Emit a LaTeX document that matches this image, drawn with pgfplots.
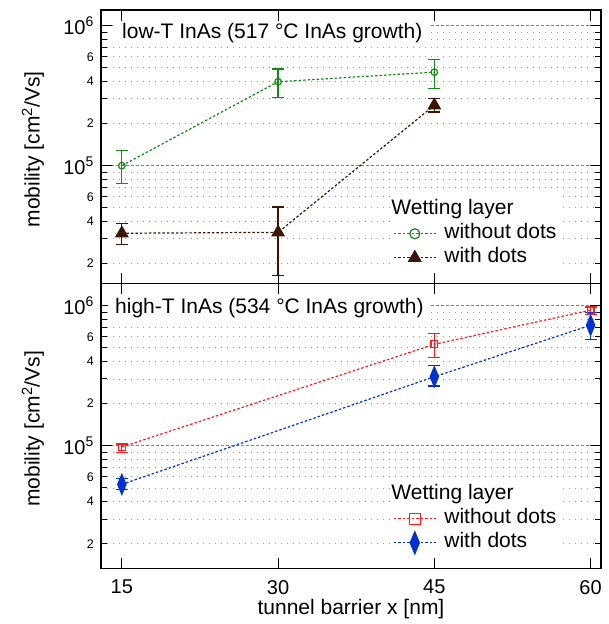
\documentclass[border=0pt]{standalone}
\usepackage{fontspec}
\setmainfont{Liberation Sans}
\usepackage{pgfplots}
\usepackage{pgfplotstable}
\pgfplotsset{compat=1.18}

\definecolor{wgreen}{RGB}{25,135,25}
\definecolor{wbrown}{RGB}{60,22,5}
\definecolor{wred}{RGB}{250,30,30}
\definecolor{wblue}{RGB}{0,50,205}

% x, y, error plus, error minus
\pgfplotstableread{
x  y       ep      em
15 1.00e5  0.28e5  0.25e5
30 3.98e5  0.93e5  0.93e5
45 4.66e5  1.08e5  1.10e5
}\lowplain
\pgfplotstableread{
x  y       ep      em
15 3.29e4  0.55e4  0.56e4
30 3.34e4  1.73e4  1.69e4
45 2.70e5  0.31e5  0.28e5
}\lowdots
\pgfplotstableread{
x  y       ep      em
15 0.98e5  0.05e5  0.08e5
45 5.30e5  1.05e5  1.05e5
60 9.30e5  0.50e5  0.60e5
}\highplain
\pgfplotstableread{
x  y       ep      em
15 5.30e4  0.55e4  0.45e4
45 3.11e5  0.62e5  0.44e5
60 7.25e5  1.70e5  1.50e5
}\highdots

\pgfplotsset{
  legend image code/.code={\draw[mark repeat=2, mark phase=2, #1]
    plot coordinates {(0pt,0pt) (21pt,0pt) (42pt,0pt)};},
}

\begin{document}
\fontsize{21}{25}\selectfont
\begin{tikzpicture}
\useasboundingbox (-101pt,-55.5pt) rectangle (507pt,568.5pt);

\begin{axis}[at={(0pt,285pt)}, anchor=south west,
  width=500pt, height=273.5pt, scale only axis,
  /pgf/number format/assume math mode=true,
  tick label style={font=\fontsize{20}{24}\selectfont},
  xmin=13, xmax=61, xtick={15,30,45,60}, xticklabels={},
  ymode=log, ymin=1.44e4, ymax=1.295e6,
  ytick={1e4,1e5,1e6},
  yticklabels={10\textsuperscript{4},10\textsuperscript{5},10\textsuperscript{6}},
  minor ytick={2e4,3e4,4e4,5e4,6e4,7e4,8e4,9e4,2e5,3e5,4e5,5e5,6e5,7e5,8e5,9e5},
  extra y ticks={2e4,4e4,6e4,2e5,4e5,6e5},
  extra y tick labels={2,4,6,2,4,6},
  extra y tick style={major tick length=6pt, grid=none,
    tick label style={font=\fontsize{12.5}{14}\selectfont}},
  ymajorgrids, yminorgrids,
  major grid style={gray, dash pattern=on 3pt off 2pt, line width=0.6pt},
  minor grid style={gray!80, dash pattern=on 1.2pt off 4.8pt, line width=0.8pt},
  major tick length=11pt, minor tick length=6pt,
  tick style={black, line width=1pt},
  axis line style={line width=1.2pt},
  ylabel={mobility [cm\textsuperscript{2}/Vs]},
  ylabel style={at={([xshift=-68pt]rel axis cs:0,0.49)}, anchor=center},
  legend cell align=left,
  legend style={draw=none, fill=white, at={(rel axis cs:0.578,0)},
    anchor=south west, yshift=11.5pt, row sep=0pt,
    nodes={text height=15pt, text depth=5pt, inner ysep=2pt},
    /tikz/every odd column/.append style={column sep=6pt}}]
\addplot[wgreen, line width=1.2pt, dash pattern=on 2.5pt off 2pt,
  mark=o, mark size=3.3pt, mark options={solid, fill=white, line width=1.2pt},
  forget plot,
  error bars/.cd, y dir=both, y explicit,
  error bar style={solid, line width=1.2pt},
  error mark options={rotate=90, mark size=6pt, line width=1.2pt, solid}]
  table[x=x, y=y, y error plus=ep, y error minus=em] {\lowplain};
\addplot[wbrown, line width=1.2pt, dash pattern=on 2.5pt off 2pt,
  mark=triangle*, mark size=6.8pt, mark options={solid},
  forget plot,
  error bars/.cd, y dir=both, y explicit,
  error bar style={solid, line width=1.2pt},
  error mark options={rotate=90, mark size=6pt, line width=1.2pt, solid}]
  table[x=x, y=y, y error plus=ep, y error minus=em] {\lowdots};
\node[anchor=west, fill=white, inner xsep=9pt, inner ysep=3pt]
  at (rel axis cs:0.024,0.914) {low-T InAs (517 °C InAs growth)};
\addlegendimage{empty legend}
\addlegendentry{\hspace*{-53pt}Wetting layer}
\addlegendimage{wgreen, line width=1.2pt, dash pattern=on 2.5pt off 2pt,
  mark=o, mark size=5pt, mark options={solid, fill=white, line width=1.2pt}}
\addlegendentry{without dots}
\addlegendimage{wbrown, line width=1.2pt, dash pattern=on 2.5pt off 2pt,
  mark=triangle*, mark size=7pt, mark options={solid}}
\addlegendentry{with dots}
\end{axis}

\begin{axis}[at={(0pt,0pt)}, anchor=south west,
  width=500pt, height=285pt, scale only axis,
  /pgf/number format/assume math mode=true,
  tick label style={font=\fontsize{20}{24}\selectfont},
  xmin=13, xmax=61, xtick={15,30,45,60},
  xticklabel style={yshift=-4.5pt},
  ymode=log, ymin=1.33e4, ymax=1.44e6,
  ytick={1e4,1e5,1e6},
  yticklabels={10\textsuperscript{4},10\textsuperscript{5},10\textsuperscript{6}},
  minor ytick={2e4,3e4,4e4,5e4,6e4,7e4,8e4,9e4,2e5,3e5,4e5,5e5,6e5,7e5,8e5,9e5},
  extra y ticks={2e4,4e4,6e4,2e5,4e5,6e5},
  extra y tick labels={2,4,6,2,4,6},
  extra y tick style={major tick length=6pt, grid=none,
    tick label style={font=\fontsize{12.5}{14}\selectfont}},
  ymajorgrids, yminorgrids,
  major grid style={gray, dash pattern=on 3pt off 2pt, line width=0.6pt},
  minor grid style={gray!80, dash pattern=on 1.2pt off 4.8pt, line width=0.8pt},
  major tick length=11pt, minor tick length=6pt,
  tick style={black, line width=1pt},
  axis line style={line width=1.2pt},
  xlabel={tunnel barrier x [nm]},
  xlabel style={at={([yshift=-40.5pt]rel axis cs:0.5,0)}, anchor=center},
  ylabel={mobility [cm\textsuperscript{2}/Vs]},
  ylabel style={at={([xshift=-68pt]rel axis cs:0,0.49)}, anchor=center},
  legend cell align=left,
  legend style={draw=none, fill=white, at={(rel axis cs:0.578,0)},
    anchor=south west, yshift=11.5pt, row sep=0pt,
    nodes={text height=15pt, text depth=5pt, inner ysep=2pt},
    /tikz/every odd column/.append style={column sep=6pt}}]
\addplot[wred, line width=1.2pt, dash pattern=on 2.5pt off 2pt,
  mark=square, mark size=3.4pt, mark options={solid, fill=white, line width=1.2pt},
  forget plot,
  error bars/.cd, y dir=both, y explicit,
  error bar style={solid, line width=1.2pt},
  error mark options={rotate=90, mark size=6pt, line width=1.2pt, solid}]
  table[x=x, y=y, y error plus=ep, y error minus=em] {\highplain};
\addplot[wblue, line width=1.2pt, dash pattern=on 2.5pt off 2pt,
  mark=diamond*, mark size=10pt, mark options={solid, xscale=0.55},
  forget plot,
  error bars/.cd, y dir=both, y explicit,
  error bar style={solid, line width=1.2pt},
  error mark options={rotate=90, mark size=6pt, line width=1.2pt, solid}]
  table[x=x, y=y, y error plus=ep, y error minus=em] {\highdots};
\node[anchor=west, fill=white, inner xsep=7pt, inner ysep=3pt]
  at (rel axis cs:0.014,0.914) {high-T InAs (534 °C InAs growth)};
\addlegendimage{empty legend}
\addlegendentry{\hspace*{-53pt}Wetting layer}
\addlegendimage{wred, line width=1.2pt, dash pattern=on 2.5pt off 2pt,
  mark=square, mark size=5.5pt, mark options={solid, fill=white, line width=1.2pt}}
\addlegendentry{without dots}
\addlegendimage{wblue, line width=1.2pt, dash pattern=on 2.5pt off 2pt,
  mark=diamond*, mark size=11pt, mark options={solid, xscale=0.55}}
\addlegendentry{with dots}
\end{axis}
\end{tikzpicture}
\end{document}
